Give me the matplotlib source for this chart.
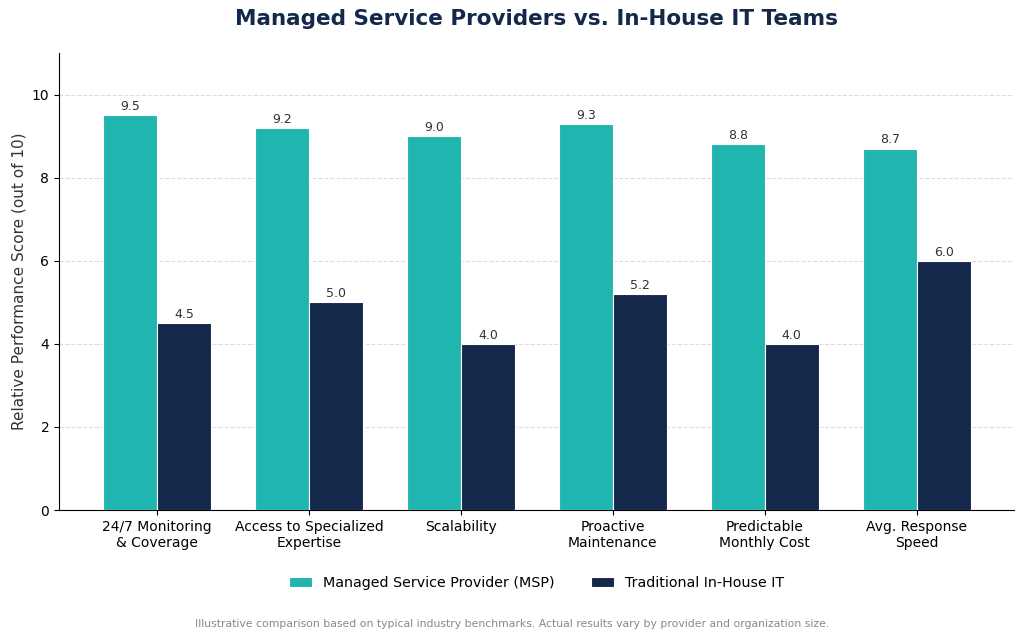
import matplotlib
matplotlib.use("Agg")
import matplotlib.pyplot as plt
import numpy as np

categories = ["24/7 Monitoring\n& Coverage", "Access to Specialized\nExpertise", "Scalability",
              "Proactive\nMaintenance", "Predictable\nMonthly Cost", "Avg. Response\nSpeed"]
msp = [9.5, 9.2, 9.0, 9.3, 8.8, 8.7]
inhouse = [4.5, 5.0, 4.0, 5.2, 4.0, 6.0]
series_names = ["Managed Service Provider (MSP)", "Traditional In-House IT"]

teal = "#20B5AF"
navy = "#14284B"

fig = plt.figure(figsize=(10.24, 6.41), dpi=100)
ax = fig.add_axes([59/1024, 1-510/641, (1014-59)/1024, (510-53)/641])

x = np.arange(len(categories))
w = 0.355
b1 = ax.bar(x - w/2, msp, w, color=teal, edgecolor="white", linewidth=0.8, label=series_names[0], zorder=3)
b2 = ax.bar(x + w/2, inhouse, w, color=navy, edgecolor="white", linewidth=0.8, label=series_names[1], zorder=3)
for bars in (b1, b2):
    for r in bars:
        ax.text(r.get_x() + r.get_width()/2, r.get_height() + 0.05, f"{r.get_height():.1f}",
                ha="center", va="bottom", fontsize=9, color="#333333")

ax.set_ylim(0, 11)
ax.set_xlim(-0.645, 5.64)
ax.set_xticks(x)
ax.set_xticklabels(categories, fontsize=10)
ax.tick_params(axis="y", labelsize=10)
ax.set_yticks([0, 2, 4, 6, 8, 10])
ax.set_ylabel("Relative Performance Score (out of 10)", fontsize=11, color="#333333")
ax.spines["top"].set_visible(False)
ax.spines["right"].set_visible(False)
ax.yaxis.grid(True, linestyle="--", color="#dddddd", linewidth=0.8, zorder=0)
ax.set_axisbelow(True)

ax.set_title("Managed Service Providers vs. In-House IT Teams", fontsize=15.5, fontweight="bold",
             color=navy, pad=20)
fig.legend(handles=[b1, b2], labels=series_names, loc="center", bbox_to_anchor=(0.524, 1-583/641),
           ncol=2, frameon=False, fontsize=10.3, columnspacing=2.5, handlelength=1.6)
fig.text(0.5, 1-624/641, "Illustrative comparison based on typical industry benchmarks. Actual results vary by provider and organization size.",
         ha="center", va="center", fontsize=7.8, color="#888888")

fig.savefig("out.png", dpi=100)
